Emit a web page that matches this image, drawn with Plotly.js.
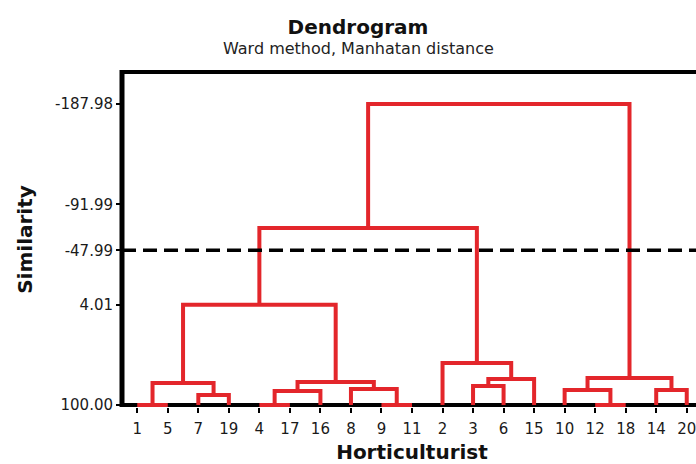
<!DOCTYPE html>
<html><head><meta charset="utf-8">
<script src="https://cdn.plot.ly/plotly-3.0.1.min.js"></script>
<style>html,body{margin:0;padding:0;overflow:hidden;background:#fff}</style>
</head><body><div id="chart" style="width:702px;height:464px"></div>
<script>
// Leaf order along the x axis (horticulturist ids)
const leaves = ["1","5","7","19","4","17","16","8","9","11","2","3","6","15","10","12","18","14","20"];
// Merges: left child, right child, merge level (Similarity). "Cn" = result of merge n.
const mergeLeft   = ["1","7","C0","4","C3","9","8","C4","C2","3","C9","2","C8","12","10","14","C14","C12"];
const mergeRight  = ["5","19","C1","17","16","11","C5","C6","C7","6","15","C10","C11","18","C13","20","C15","C16"];
const mergeHeight = [100,90.4,78.9,100,86.6,100,84.7,78.0,4.01,81.8,75.1,59.8,-69.4,100,85.6,85.6,74.1,-187.98];
const leafLevel = 100;
const cutLevel = -47.99;
const yTickVals = [-187.98,-91.99,-47.99,4.01,100];
const yTickText = ["-187.98","-91.99","-47.99","4.01","100.00"];

const RED = '#e3262b';
const FONT = 'DejaVu Sans';

// compute node positions from merge data
const pos = {};
leaves.forEach((l,i)=>{ pos[l] = {x:i, h:leafLevel}; });
const xs = [], ys = [];
mergeLeft.forEach((l,i)=>{
  const a = pos[l], b = pos[mergeRight[i]], h = mergeHeight[i];
  xs.push(a.x, a.x, b.x, b.x, null);
  ys.push(a.h, h, h, b.h, null);
  pos['C'+i] = {x:(a.x+b.x)/2, h:h};
});

const trace = {x:xs, y:ys, type:'scatter', mode:'lines',
  line:{color:RED, width:4}, hoverinfo:'skip', connectgaps:false};

const layout = {
  width:702, height:464,
  margin:{l:122, r:0, t:72, b:57},
  paper_bgcolor:'#fff', plot_bgcolor:'#fff',
  showlegend:false,
  font:{family:FONT, color:'#1a1a1a'},
  title:{text:'<b>Dendrogram</b>', font:{family:FONT, size:20, color:'#111'},
    xref:'container', x:0.51, xanchor:'center', yref:'container', y:0.942, yanchor:'middle'},
  annotations:[{text:'Ward method, Manhatan distance', xref:'paper', yref:'paper',
    x:0.407, y:1.0716, xanchor:'center', yanchor:'middle', showarrow:false,
    font:{family:FONT, size:16, color:'#222'}}],
  xaxis:{range:[-0.5, leaves.length-0.5], tickvals:leaves.map((_,i)=>i), ticktext:leaves,
    ticks:'outside', ticklen:5, tickwidth:2, tickcolor:'#000', ticklabelstandoff:3,
    showline:false, showgrid:false, zeroline:false,
    tickfont:{family:FONT, size:15, color:'#1a1a1a'},
    title:{text:'<b>Horticulturist</b>', font:{family:FONT, size:20, color:'#111'}, standoff:12}},
  yaxis:{range:[101.9, -218.6], tickvals:yTickVals, ticktext:yTickText,
    ticks:'outside', ticklen:5, tickwidth:2, tickcolor:'#000',
    showline:false, showgrid:false, zeroline:false,
    tickfont:{family:FONT, size:15, color:'#1a1a1a'},
    title:{text:'<b>Similarity</b>', font:{family:FONT, size:20, color:'#111'}, standoff:17}},
  shapes:[
    {type:'line', xref:'paper', yref:'paper', x0:0, x1:0, y0:0, y1:1.006, line:{color:'#000', width:5}, layer:'below'},
    {type:'line', xref:'paper', yref:'paper', x0:0, x1:1, y0:1, y1:1, line:{color:'#000', width:4}, layer:'below'},
    {type:'line', xref:'paper', yref:'y', x0:0, x1:1, y0:leafLevel, y1:leafLevel, line:{color:'#000', width:4}, layer:'below'},
    {type:'line', xref:'paper', yref:'y', x0:0, x1:1, y0:cutLevel, y1:cutLevel, line:{color:'#000', width:3.5, dash:'14px,7px'}, layer:'above'}
  ]
};

Plotly.newPlot('chart', [trace], layout, {displayModeBar:false, staticPlot:true});
</script></body></html>
